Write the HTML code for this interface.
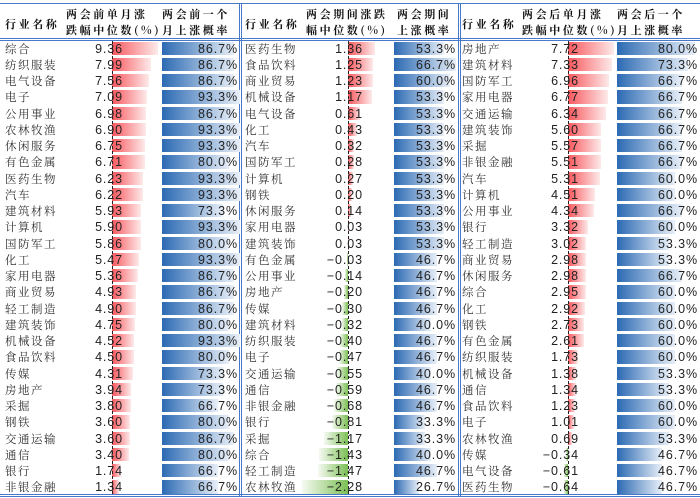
<!DOCTYPE html>
<html><head><meta charset="utf-8"><style>
body{margin:0;width:700px;height:498px;background:#fff;overflow:hidden;position:relative;font-family:"Liberation Sans","Noto Serif CJK SC",serif;}
.a{position:absolute;}
.hd{position:absolute;font-family:"Noto Serif CJK SC",serif;font-weight:bold;font-size:11px;letter-spacing:2.6px;line-height:16px;color:#111;white-space:nowrap;}
.nm{position:absolute;font-family:"Noto Serif CJK SC",serif;font-size:11.5px;letter-spacing:1.5px;color:#333;white-space:nowrap;line-height:16px;}
.num{position:absolute;font-family:"Liberation Sans",sans-serif;font-size:12.5px;letter-spacing:0.9px;color:#222;text-align:right;line-height:16px;white-space:nowrap;}
</style></head><body>
<div id="root"></div>
<script>
const p1Names=["综合","纺织服装","电气设备","电子","公用事业","农林牧渔","休闲服务","有色金属","医药生物","汽车","建筑材料","计算机","国防军工","化工","家用电器","商业贸易","轻工制造","建筑装饰","机械设备","食品饮料","传媒","房地产","采掘","钢铁","交通运输","通信","银行","非银金融"];
const p1Med=[9.36,7.99,7.56,7.09,6.98,6.90,6.75,6.71,6.23,6.22,5.93,5.90,5.86,5.47,5.36,4.93,4.90,4.75,4.52,4.50,4.31,3.94,3.80,3.60,3.60,3.40,1.74,1.34];
const p1Prob=[86.7,86.7,86.7,93.3,86.7,93.3,93.3,80.0,93.3,93.3,73.3,93.3,80.0,93.3,86.7,86.7,86.7,80.0,93.3,80.0,73.3,73.3,66.7,80.0,86.7,80.0,66.7,66.7];
const p2Names=["医药生物","食品饮料","商业贸易","机械设备","电气设备","化工","汽车","国防军工","计算机","钢铁","休闲服务","家用电器","建筑装饰","有色金属","公用事业","房地产","传媒","建筑材料","纺织服装","电子","交通运输","通信","非银金融","银行","采掘","综合","轻工制造","农林牧渔"];
const p2Med=[1.36,1.25,1.23,1.17,0.61,0.43,0.32,0.28,0.27,0.20,0.14,0.03,0.03,-0.03,-0.14,-0.20,-0.30,-0.32,-0.40,-0.47,-0.55,-0.59,-0.68,-0.81,-1.17,-1.43,-1.47,-2.28];
const p2Prob=[53.3,66.7,60.0,53.3,53.3,53.3,53.3,53.3,53.3,53.3,53.3,53.3,53.3,46.7,46.7,46.7,46.7,40.0,46.7,46.7,40.0,46.7,46.7,33.3,33.3,40.0,46.7,26.7];
const p3Names=["房地产","建筑材料","国防军工","家用电器","交通运输","建筑装饰","采掘","非银金融","汽车","计算机","公用事业","银行","轻工制造","商业贸易","休闲服务","综合","化工","钢铁","有色金属","纺织服装","机械设备","通信","食品饮料","电子","农林牧渔","传媒","电气设备","医药生物"];
const p3Med=[7.72,7.33,6.96,6.77,6.34,5.60,5.57,5.51,5.31,4.51,4.34,3.32,3.02,2.98,2.98,2.95,2.92,2.73,2.61,1.73,1.38,1.34,1.23,1.01,0.69,-0.34,-0.61,-0.64];
const p3Prob=[80.0,73.3,66.7,66.7,66.7,66.7,66.7,66.7,60.0,60.0,66.7,60.0,53.3,53.3,66.7,60.0,60.0,60.0,60.0,60.0,53.3,53.3,60.0,60.0,53.3,46.7,46.7,46.7];
const h1=["两会前单月涨","跌幅中位数(%)"],h1b=["两会前一个","月上涨概率"];
const h2=["两会期间涨跌","幅中位数(%)"],h2b=["两会期间","上涨概率"];
const h3=["两会后单月涨","跌幅中位数(%)"],h3b=["两会后一个","月上涨概率"];

const root=document.getElementById('root');
const Y0=40,RH=16.25;
function add(cls,css,txt){const d=document.createElement('div');d.className=cls;d.style.cssText=css;if(txt!==undefined)d.textContent=txt;root.appendChild(d);return d;}
const panels=[
 {id:'pre',names:p1Names,med:p1Med,prob:p1Prob,h:h1,hb:h1b,nx:5,hx2:66,hx3:162,axis:112,numR:123,pb:162,pk:0.835,pr:238},
 {id:'during',names:p2Names,med:p2Med,prob:p2Prob,h:h2,hb:h2b,nx:245,hx2:306,hx3:397,axis:348,numR:363,pb:394,pk:0.93,pr:456},
 {id:'post',names:p3Names,med:p3Med,prob:p3Prob,h:h3,hb:h3b,nx:462,hx2:522,hx3:617,axis:568,numR:579,pb:617,pk:0.97,pr:698}
];
let l=add('a','left:0;top:3px;width:700px;height:1px;background:#4a78c8;');

l=add('a','left:0;top:38px;width:700px;height:1px;background:#4a78c8;');

l=add('a','left:0;top:40px;width:700px;height:1px;background:#4a78c8;');

l=add('a','left:0;top:494px;width:700px;height:1px;background:#4a78c8;');

l=add('a','left:0;top:496px;width:700px;height:1px;background:#4a78c8;');

[239,241,458,460].forEach(x=>{const v=add('a','left:'+x+'px;top:3px;width:1px;height:494px;background:#4a78c8;');

});

panels.forEach(p=>{
 let e=add('hd','left:'+p.nx+'px;top:16px;','行业名称');
 
 
 e=add('hd','left:'+p.hx2+'px;top:6px;');e.innerHTML=p.h[0]+'<br>'+p.h[1];
 
 
 e=add('hd','left:'+p.hx3+'px;top:6px;');e.innerHTML=p.hb[0]+'<br>'+p.hb[1];
 
 
 const maxAbs=Math.max(...p.med.map(Math.abs));
 const sc=46/maxAbs;
 p.names.forEach((n,i)=>{
  const top=Y0+i*RH;
  let t=add('nm','left:'+p.nx+'px;top:'+(top+0.5)+'px;',n);
  
  
  const v=p.med[i],w=Math.abs(v)*sc;
  let b;
  if(v>=0){b=add('a','left:'+p.axis+'px;top:'+(top+1.5)+'px;width:'+w+'px;height:'+(RH-3)+'px;background:linear-gradient(to right,#f8585e,#fdeaea);');}
  else{b=add('a','left:'+(p.axis-w)+'px;top:'+(top+1.5)+'px;width:'+w+'px;height:'+(RH-3)+'px;background:linear-gradient(to right,#f6faf2,#7cbf55);');}
  
  
  t=add('num','left:'+(p.numR-60)+'px;width:60px;top:'+(top+0.5)+'px;',v.toFixed(2).replace('-','−'));
  
  
  const pw=Math.min(p.prob[i]*p.pk,p.pr-p.pb+2);
  b=add('a','left:'+p.pb+'px;top:'+(top+1.5)+'px;width:'+pw+'px;height:'+(RH-3)+'px;background:linear-gradient(to right,#2c6ab3,#e8eff8);');
  
  
  t=add('num','left:'+(p.pr-60)+'px;width:60px;top:'+(top+0.5)+'px;',p.prob[i].toFixed(1)+'%');
  
  
 });
 let ax=add('a','left:'+p.axis+'px;top:41px;width:0;height:453px;border-left:1px dashed #222;');
 
 
});
</script>
</body></html>
